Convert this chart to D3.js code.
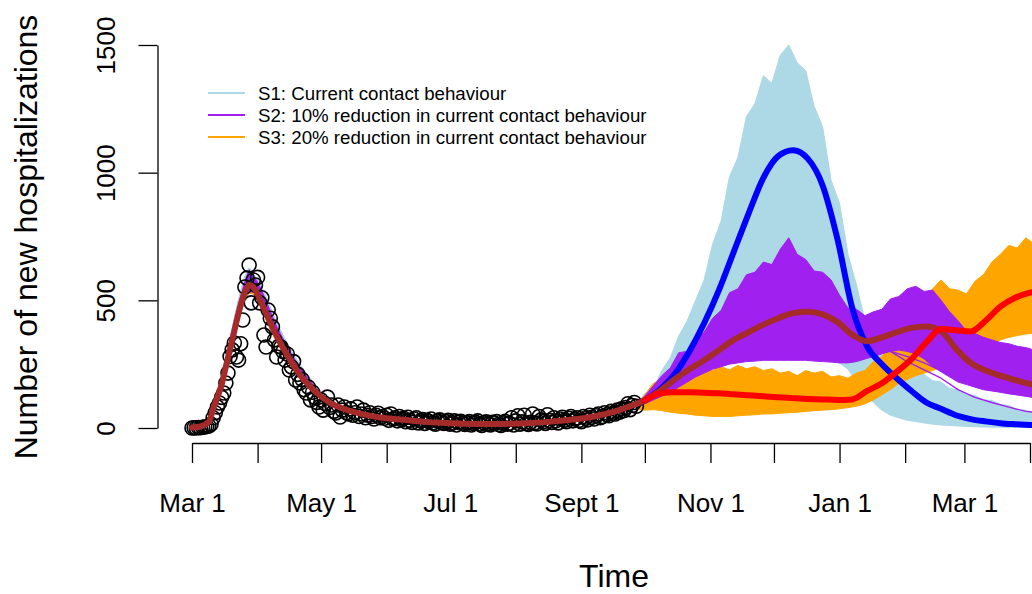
<!DOCTYPE html>
<html>
<head>
<meta charset="utf-8">
<script src="https://cdn.jsdelivr.net/npm/d3@7"></script>
<style>
  body { margin: 0; background: #fff; }
  svg { display: block; font-family: "Liberation Sans", Arial, Helvetica, sans-serif; }
</style>
</head>
<body>
<svg id="chart" width="1032" height="594"></svg>
<script>
// ── Data ──────────────────────────────────────────────────────────────────
// day 0 = Mar 1 2020
const START = new Date(2020, 2, 1);

// observed daily new hospitalizations (circles)
const obsValues = [
  0, 1, 0, 2, 1, 3, 4, 6, 8, 15,
  40, 60, 82, 98, 120, 137, 176, 215, 280, 306,
  333, 278, 266, 330, 423, 552, 587, 638, 490, 580,
  560, 590, 490, 510, 364, 317, 462, 430, 396, 345,
  278, 320, 317, 300, 266, 290, 227, 239, 260, 188,
  210, 176, 190, 150, 137, 160, 110, 140, 120, 100,
  82, 110, 70, 95, 121, 80, 90, 65, 59, 90,
  43, 70, 82, 60, 55, 75, 50, 60, 82, 45,
  55, 70, 40, 50, 60, 45, 35, 50, 58, 40,
  45, 38, 50, 30, 55, 35, 40, 28, 45, 32,
  38, 25, 42, 30, 22, 35, 40, 20, 28, 33,
  18, 30, 25, 35, 20, 15, 28, 32, 22, 18,
  25, 30, 15, 20, 28, 12, 22, 26, 18, 14,
  20, 25, 12, 18, 22, 28, 15, 10, 20, 24,
  16, 12, 22, 18, 25, 14, 10, 20, 26, 15,
  18, 40, 12, 28, 48, 15, 24, 50, 18, 14,
  22, 55, 20, 16, 45, 32, 25, 18, 52, 30,
  22, 40, 28, 20, 35, 42, 30, 25, 38, 45,
  28, 35, 40, 30, 25, 45, 38, 32, 50, 42,
  35, 48, 55, 40, 45, 60, 52, 48, 65, 58,
  55, 70, 62, 75, 68, 80, 95, 72, 88, 100,
  85,
];

// model fit over the observed period
const fitDays = [0, 4, 8, 10, 12, 14, 16, 18, 20, 22, 24, 26, 27, 28, 30, 32, 35, 38, 41, 44, 47, 50, 55, 60, 65, 70, 80, 90, 100, 110, 120, 130, 140, 150, 160, 170, 180, 190, 200, 207, 214];
const fitValues = [2, 6, 25, 75, 120, 170, 240, 310, 380, 450, 510, 550, 560, 558, 540, 505, 450, 395, 345, 300, 260, 220, 170, 130, 100, 80, 55, 40, 32, 24, 20, 17, 16, 17, 20, 25, 33, 45, 65, 85, 108];

// spread of the simulations around the first wave
const waveDays = [14, 18, 22, 25, 27, 29, 31, 34, 37, 40, 44, 48, 52, 56, 60, 66];
const waveHigh = [200, 350, 500, 590, 625, 600, 580, 530, 470, 410, 345, 285, 235, 190, 150, 110];
const waveLow = [150, 280, 420, 505, 530, 525, 500, 445, 390, 340, 280, 225, 185, 150, 118, 88];

// projection envelopes of the simulated trajectories
const projDays = [210, 214, 218, 222, 226, 230, 234, 238, 242, 246, 250, 254, 258, 262, 266, 270, 274, 278, 282, 286, 290, 294, 298, 302, 306, 310, 314, 318, 322, 326, 330, 334, 338, 342, 346, 350, 354, 358, 362, 366, 370, 374, 378, 382, 386, 390, 394, 398, 402];
const s1High = [95, 135, 155, 225, 275, 360, 420, 500, 580, 720, 810, 985, 1060, 1220, 1270, 1380, 1350, 1460, 1500, 1430, 1400, 1260, 1180, 970, 880, 680, 560, 420, 350, 285, 270, 240, 250, 220, 210, 185, 180, 155, 150, 130, 128, 110, 108, 92, 88, 72, 70, 58, 56];
const s1Low = [80, 90, 100, 110, 125, 140, 160, 195, 220, 240, 260, 275, 285, 290, 295, 300, 300, 300, 300, 295, 290, 285, 275, 265, 255, 230, 180, 130, 100, 70, 50, 40, 30, 25, 20, 15, 12, 10, 8, 6, 5, 4, 3, 3, 2, 2, 2, 2, 2];
const s2High = [95, 125, 165, 205, 235, 295, 300, 345, 375, 430, 460, 530, 545, 600, 610, 650, 640, 700, 745, 680, 660, 615, 610, 580, 520, 470, 465, 440, 455, 465, 505, 515, 545, 555, 535, 540, 500, 455, 420, 380, 370, 355, 345, 335, 330, 320, 315, 305, 300];
const s2Low = [78, 95, 110, 125, 140, 160, 180, 200, 215, 230, 240, 250, 255, 260, 262, 265, 265, 265, 265, 265, 265, 262, 260, 258, 255, 255, 260, 270, 280, 290, 300, 305, 300, 290, 270, 240, 220, 200, 180, 170, 160, 150, 145, 140, 135, 130, 125, 120, 115];
const s3High = [92, 130, 175, 190, 215, 205, 225, 215, 232, 225, 240, 228, 245, 232, 240, 225, 232, 215, 222, 205, 225, 215, 222, 200, 205, 195, 215, 225, 260, 280, 320, 330, 390, 430, 500, 545, 580, 545, 540, 525, 575, 600, 650, 680, 715, 705, 745, 720, 730];
const s3Low = [75, 70, 72, 68, 62, 58, 55, 50, 48, 45, 45, 45, 48, 50, 52, 55, 55, 58, 60, 62, 65, 68, 70, 72, 75, 80, 85, 95, 110, 130, 150, 175, 190, 205, 215, 225, 240, 255, 270, 285, 300, 315, 330, 345, 355, 362, 368, 372, 375];

// a few low S2 trajectories that stand apart on the right
const tailDays = [330, 338, 346, 354, 362, 370, 378, 386, 394, 402];
const s2TailA = [300, 260, 228, 195, 150, 120, 100, 82, 65, 58];
const s2TailB = [300, 280, 255, 225, 200, 175, 150, 135, 125, 115];

// medians of each scenario
const medDays = [214, 221, 228, 235, 242, 249, 256, 263, 270, 277, 284, 291, 298, 305, 312, 319, 326, 333, 340, 347, 354, 361, 368, 375, 382, 389, 396, 403];
const s1Median = [108, 150, 210, 300, 410, 540, 690, 840, 980, 1065, 1088, 1055, 950, 740, 470, 320, 250, 195, 145, 100, 75, 50, 35, 26, 19, 15, 12, 10];
const s2Median = [108, 145, 190, 230, 265, 305, 345, 375, 405, 430, 450, 455, 445, 415, 365, 340, 355, 375, 392, 398, 380, 310, 255, 225, 205, 188, 172, 160];
const s3Median = [108, 135, 140, 140, 138, 136, 132, 128, 124, 120, 117, 114, 112, 110, 112, 145, 175, 220, 270, 335, 388, 383, 378, 420, 475, 510, 530, 540];

// axes
const yTicks = [0, 500, 1000, 1500];
const monthTicks = ["2020-03-01", "2020-04-01", "2020-05-01", "2020-06-01", "2020-07-01", "2020-08-01", "2020-09-01", "2020-10-01", "2020-11-01", "2020-12-01", "2021-01-01", "2021-02-01", "2021-03-01", "2021-04-01"];
const labelTicks = ["2020-03-01", "2020-05-01", "2020-07-01", "2020-09-01", "2020-11-01", "2021-01-01", "2021-03-01"];
const labelTexts = ["Mar 1", "May 1", "Jul 1", "Sept 1", "Nov 1", "Jan 1", "Mar 1"];

const legendLabels = [
  "S1: Current contact behaviour",
  "S2: 10% reduction in current contact behaviour",
  "S3: 20% reduction in current contact behaviour",
];
const legendColors = ["#add8e6", "#a020f0", "#ffa500"];

// ── Colours ───────────────────────────────────────────────────────────────
const COL = {
  s1: "#add8e6",
  s2: "#a020f0",
  s3: "#ffa500",
  s1Med: "#0000ff",
  s2Med: "#a52a2a",
  s3Med: "#ff0000",
};

// ── Scales ────────────────────────────────────────────────────────────────
const parse = d3.timeParse("%Y-%m-%d");
const day = (d) => d3.timeDay.offset(START, d);

const x = d3
  .scaleTime()
  .domain([parse("2020-03-01"), parse("2021-04-01")])
  .range([192, 1030]);
const y = d3.scaleLinear().domain([0, 1500]).range([428, 45]);

const svg = d3.select("#chart");

// ── Helpers ───────────────────────────────────────────────────────────────
function band(days, lo, hi, color) {
  const area = d3
    .area()
    .x((d, i) => x(day(days[i])))
    .y0((d, i) => y(lo[i]))
    .y1((d, i) => y(hi[i]));
  svg.append("path").attr("d", area(days)).attr("fill", color).attr("stroke", color).attr("stroke-width", 1);
}

function line(days, vals, color, width, curve) {
  const gen = d3
    .line()
    .x((d, i) => x(day(days[i])))
    .y((d, i) => y(vals[i]))
    .curve(curve || d3.curveLinear);
  svg
    .append("path")
    .attr("d", gen(days))
    .attr("fill", "none")
    .attr("stroke", color)
    .attr("stroke-width", width)
    .attr("stroke-linejoin", "round")
    .attr("stroke-linecap", "round");
}

// ── Simulation envelopes ─────────────────────────────────────────────────
band(projDays, s1Low, s1High, COL.s1);
band(projDays, s3Low, s3High, COL.s3);
band(projDays, s2Low, s2High, COL.s2);
line(tailDays, s2TailA, COL.s2, 1.4);
line(tailDays, s2TailB, COL.s2, 1.4);

// first wave spread (mostly hidden by the fit)
band(waveDays, waveLow, waveHigh, COL.s2);
line(waveDays, waveHigh, COL.s1, 1.5, d3.curveMonotoneX);
line(waveDays, waveLow, COL.s3, 1.5, d3.curveMonotoneX);

// ── Observed data ─────────────────────────────────────────────────────────
svg
  .append("g")
  .selectAll("circle")
  .data(obsValues)
  .join("circle")
  .attr("cx", (d, i) => x(day(i)))
  .attr("cy", (d) => y(d))
  .attr("r", 7)
  .attr("fill", "none")
  .attr("stroke", "#000")
  .attr("stroke-width", 1.6);

// ── Fit and medians ──────────────────────────────────────────────────────
line(fitDays, fitValues, COL.s2Med, 6, d3.curveMonotoneX);
line(medDays, s1Median, COL.s1Med, 6, d3.curveMonotoneX);
line(medDays, s2Median, COL.s2Med, 6, d3.curveMonotoneX);
line(medDays, s3Median, COL.s3Med, 6, d3.curveMonotoneX);

// ── Axes ──────────────────────────────────────────────────────────────────
const labelMap = new Map(labelTicks.map((d, i) => [+parse(d), labelTexts[i]]));

const xAxis = svg
  .append("g")
  .attr("transform", "translate(0,443)")
  .call(
    d3
      .axisBottom(x)
      .tickValues(monthTicks.map(parse))
      .tickSize(20)
      .tickSizeOuter(0)
      .tickPadding(31)
      .tickFormat((d) => labelMap.get(+d) || ""),
  );
xAxis.selectAll("text").attr("font-size", 26).attr("fill", "#000").attr("font-family", null);
xAxis.selectAll("path, line").attr("stroke", "#000").attr("stroke-width", 1.3);

const yAxis = svg
  .append("g")
  .attr("transform", "translate(157.5,0)")
  .call(d3.axisLeft(y).tickValues(yTicks).tickSize(19).tickSizeOuter(0).tickFormat(d3.format("d")));
yAxis
  .selectAll("text")
  .attr("font-size", 26)
  .attr("fill", "#000")
  .attr("font-family", null)
  .attr("transform", "rotate(-90)")
  .attr("text-anchor", "middle")
  .attr("x", 0)
  .attr("y", -42.5)
  .attr("dy", 0);
yAxis.selectAll("path, line").attr("stroke", "#000").attr("stroke-width", 1.3);

// ── Axis titles ──────────────────────────────────────────────────────────
svg
  .append("text")
  .attr("x", 614)
  .attr("y", 587)
  .attr("text-anchor", "middle")
  .attr("font-size", 32)
  .text("Time");

svg
  .append("text")
  .attr("transform", "translate(37,237) rotate(-90)")
  .attr("text-anchor", "middle")
  .attr("font-size", 32)
  .text("Number of new hospitalizations");

// ── Legend ────────────────────────────────────────────────────────────────
const legend = svg
  .append("g")
  .selectAll("g")
  .data(legendLabels)
  .join("g")
  .attr("transform", (d, i) => `translate(208,${93 + i * 22})`);

legend
  .append("line")
  .attr("x1", 0)
  .attr("x2", 37)
  .attr("stroke", (d, i) => legendColors[i])
  .attr("stroke-width", 2);

legend
  .append("text")
  .attr("x", 50)
  .attr("dy", "0.35em")
  .attr("font-size", 18.7)
  .text((d) => d);
</script>
</body>
</html>
